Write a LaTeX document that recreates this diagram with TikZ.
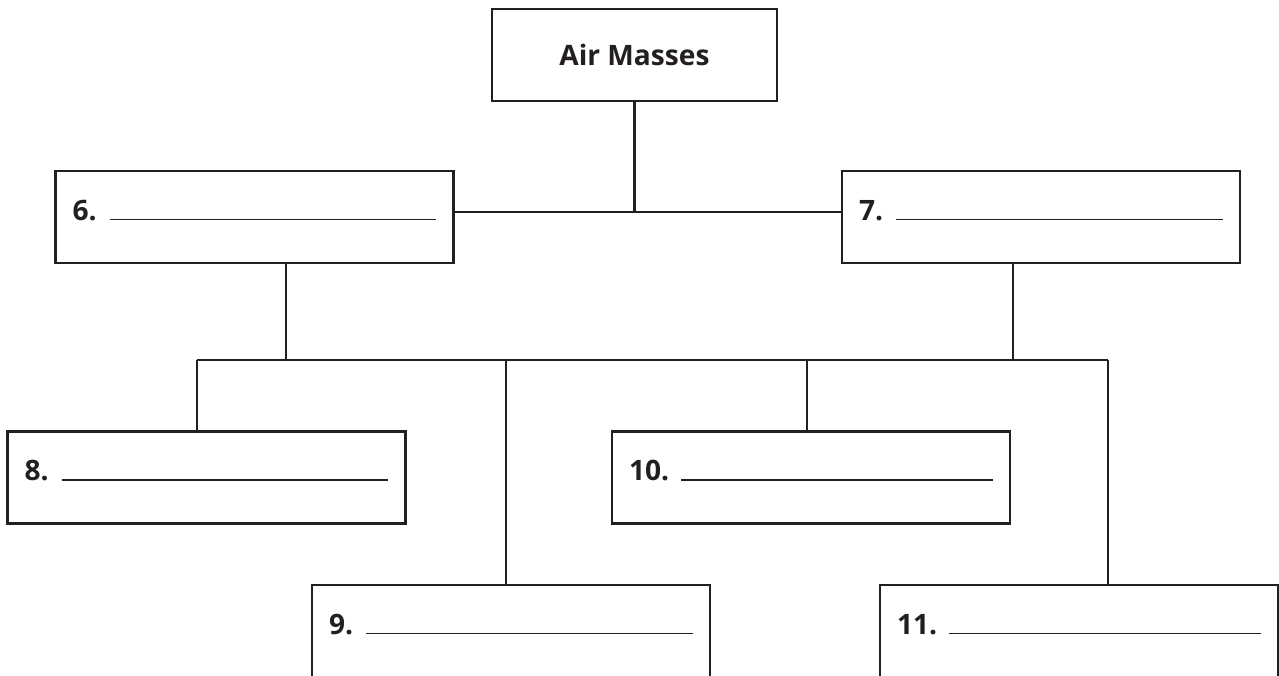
\documentclass[tikz,border=0pt]{standalone}
\usepackage{fontspec}
\setmainfont{Open Sans}
\definecolor{ink}{HTML}{231F20}
\newcommand{\answerline}{\leaders\hrule height 0.8pt\hskip 0pt plus 1fill\null}
\begin{document}
\begin{tikzpicture}[x=0.02cm,y=-0.02cm,
  box/.style={draw=ink, line width=1.5pt, text=ink, minimum height=1.84cm, font=\bfseries\fontsize{16}{18}\selectfont},
  ansbox/.style={box, inner xsep=0.34cm, text width=7.28cm, text height=0.34cm, text depth=0.22cm},
  link/.style={draw=ink, line width=1.5pt}]
\pgfmathsetmacro{\ybus}{360}
\clip (0,0) rectangle (1279,676);
\node[box, minimum width=5.7cm] (air) at (634.5,55) {Air Masses};
%
\node[ansbox] (b6) at (254.5,217) {6.\hspace{0.26cm}\answerline};
\node[ansbox] (b7) at (1041,217) {7.\hspace{0.26cm}\answerline};
%
\node[ansbox] (b8) at (206.5,477.5) {8.\hspace{0.26cm}\answerline};
\node[ansbox] (b10) at (811,477.5) {10.\hspace{0.24cm}\answerline};
%
\node[ansbox] (b9) at (511,631) {9.\hspace{0.26cm}\answerline};
\node[ansbox] (b11) at (1079,631) {11.\hspace{0.24cm}\answerline};
%
\coordinate (jtop) at (634.5,212);
\coordinate (j6) at (286,\ybus);
\coordinate (j7) at (1013,\ybus);
\coordinate (j8) at (197,\ybus);
\coordinate (j9) at (506,\ybus);
\coordinate (j10) at (807,\ybus);
\coordinate (j11) at (1108,\ybus);
%
\draw[link] (air.south) -- (jtop);
\draw[link] (jtop -| b6.east) -- (jtop -| b7.west);
%
\draw[link] (b6.south -| j6) -- (j6);
\draw[link] (b7.south -| j7) -- (j7);
\draw[link] (j8) -- (j11);
%
\draw[link] (j8) -- (j8 |- b8.north);
\draw[link] (j9) -- (j9 |- b9.north);
\draw[link] (j10) -- (j10 |- b10.north);
\draw[link] (j11) -- (j11 |- b11.north);
\end{tikzpicture}
\end{document}
